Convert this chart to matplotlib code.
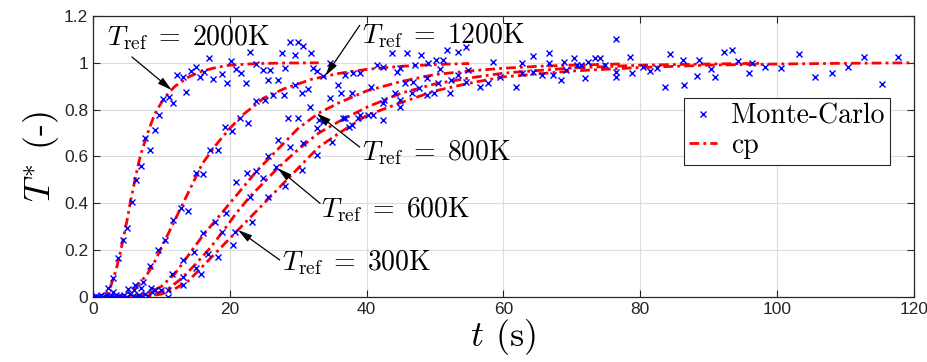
import numpy as np
import matplotlib
matplotlib.use('Agg')
import matplotlib.pyplot as plt
from matplotlib.lines import Line2D

plt.rcParams['mathtext.fontset'] = 'cm'

# curvas cp
t_2000 = [0, 1, 2, 2.5, 3, 3.5, 4, 4.5, 5, 5.5, 6, 6.5, 7, 8, 9, 10, 11, 12, 14, 16, 18, 20, 24, 28, 33]
T_2000 = [0, 0.002, 0.015, 0.04, 0.08, 0.13, 0.19, 0.26, 0.33, 0.41, 0.48, 0.55, 0.61, 0.70, 0.78, 0.83,
          0.87, 0.90, 0.94, 0.965, 0.98, 0.99, 0.997, 0.999, 1.0]
t_1200 = [0, 2, 4, 5, 6, 7, 8, 9, 10, 11, 12, 13, 14, 15, 16, 18, 20, 22, 25, 28, 32, 36, 40, 45, 50, 55]
T_1200 = [0, 0, 0.005, 0.015, 0.035, 0.065, 0.10, 0.15, 0.21, 0.27, 0.33, 0.39, 0.45, 0.51, 0.57, 0.65,
          0.72, 0.78, 0.85, 0.89, 0.93, 0.955, 0.972, 0.985, 0.993, 0.997]
t_800 = [0, 4, 6, 8, 10, 12, 14, 16, 18, 20, 22, 24, 26, 28, 30, 33, 36, 40, 45, 50, 55, 60, 65, 70, 77]
T_800 = [0, 0, 0.003, 0.015, 0.045, 0.10, 0.18, 0.26, 0.33, 0.40, 0.47, 0.54, 0.60, 0.66, 0.72, 0.785,
         0.83, 0.88, 0.92, 0.95, 0.965, 0.977, 0.985, 0.99, 0.995]
t_600 = [0, 5, 7, 9, 11, 13, 15, 17, 19, 21, 23, 25, 27, 30, 33, 36, 40, 45, 50, 55, 60, 70, 80, 90, 98]
T_600 = [0, 0, 0.003, 0.012, 0.035, 0.08, 0.14, 0.205, 0.28, 0.36, 0.43, 0.49, 0.55, 0.63, 0.70, 0.75,
         0.81, 0.87, 0.91, 0.935, 0.956, 0.978, 0.99, 0.995, 0.998]
t_300 = [0, 6, 8, 10, 12, 14, 16, 18, 20, 22, 24, 26, 28, 30, 33, 36, 40, 45, 50, 55, 60, 70, 80, 90,
         100, 110, 120]
T_300 = [0, 0, 0.003, 0.012, 0.035, 0.07, 0.13, 0.19, 0.25, 0.31, 0.37, 0.43, 0.49, 0.55, 0.64, 0.70,
         0.775, 0.83, 0.88, 0.913, 0.94, 0.965, 0.98, 0.99, 0.995, 0.998, 1.0]

# puntos Monte-Carlo
mc_cero = [(0.2, 0.0), (0.5, 0.005), (0.8, 0.0), (1.1, 0.01), (1.4, 0.0), (1.7, 0.005), (2.0, 0.01),
           (2.3, 0.0), (2.7, 0.005), (3.1, 0.0), (3.4, 0.01), (3.8, 0.005), (4.2, 0.0), (4.6, 0.008),
           (5.0, 0.0), (5.4, 0.012), (5.8, 0.005), (6.2, 0.0), (6.7, 0.01), (7.1, 0.0), (7.6, 0.012),
           (8.0, 0.005), (8.6, 0.02), (9.1, 0.03), (3.0, 0.02), (6.0, 0.03), (7.0, 0.04)]
mc_2000 = [(2.2, 0.037), (3.0, 0.082), (3.7, 0.168), (4.4, 0.243), (5.0, 0.296), (5.7, 0.404), (6.3, 0.50),
           (7.0, 0.56), (7.6, 0.677), (8.3, 0.627), (9.0, 0.713), (9.6, 0.777), (10.3, 0.845), (11.1, 0.853),
           (11.7, 0.83), (12.3, 0.948), (13.1, 0.938), (13.6, 0.874), (14.3, 0.966), (15.0, 0.983),
           (15.6, 0.94), (16.3, 0.962), (17.0, 1.019), (17.6, 0.931), (18.9, 0.952), (19.6, 0.915),
           (20.2, 1.008), (20.9, 0.972), (21.7, 0.955), (22.3, 0.915), (22.9, 1.045), (23.9, 0.997),
           (24.9, 0.969), (25.6, 0.926), (25.9, 0.969), (27.1, 0.926), (27.6, 1.04), (28.1, 0.976),
           (28.8, 1.09), (29.5, 1.033), (30.0, 1.09), (30.7, 1.07), (31.9, 1.04), (32.2, 0.976)]
mc_1200 = [(5.1, 0.033), (6.1, 0.052), (7.3, 0.066), (8.4, 0.133), (9.5, 0.201), (10.5, 0.243), (11.7, 0.328),
           (12.8, 0.378), (13.9, 0.368), (15.0, 0.531), (16.1, 0.525), (17.1, 0.628), (18.3, 0.628),
           (19.3, 0.728), (20.3, 0.707), (21.5, 0.764), (22.7, 0.742), (23.9, 0.835), (25.1, 0.842),
           (26.3, 0.862), (28.0, 0.862), (29.5, 0.906), (30.5, 0.870), (31.4, 0.89), (31.7, 0.813),
           (32.7, 0.963), (33.7, 0.942), (34.6, 1.0), (35.8, 0.906), (36.3, 0.870), (36.8, 0.948),
           (37.8, 0.870), (38.0, 0.956), (39.0, 0.956), (41.5, 0.99), (42.4, 0.983), (43.7, 1.04),
           (44.4, 0.962), (44.9, 0.976), (45.9, 1.04), (47.1, 0.99), (48.0, 1.033), (49.0, 0.998),
           (50.2, 1.012), (50.7, 0.972), (51.2, 1.012), (51.7, 1.055), (53.3, 1.048), (54.6, 1.066)]
mc_bajas = [(8.5, 0.037), (10.0, 0.03), (11.0, 0.03), (11.0, 0.0), (11.5, 0.10), (13.1, 0.086), (13.2, 0.158),
            (13.2, 0.05), (14.7, 0.194), (15.0, 0.122), (15.8, 0.098), (16.1, 0.272), (16.8, 0.184),
            (17.8, 0.322), (18.3, 0.172), (18.8, 0.279), (19.4, 0.358), (20.5, 0.222), (20.8, 0.279),
            (20.9, 0.492), (22.5, 0.528), (22.9, 0.425), (23.2, 0.322), (23.9, 0.536), (24.9, 0.507),
            (25.6, 0.60), (25.6, 0.429), (26.8, 0.557), (27.1, 0.671), (28.1, 0.472), (28.8, 0.642),
            (28.5, 0.764), (30.0, 0.764), (30.7, 0.657), (30.5, 0.543), (32.7, 0.607), (32.7, 0.721),
            (33.7, 0.749), (34.9, 0.664), (36.8, 0.764), (37.8, 0.735), (38.8, 0.764), (40.2, 0.778),
            (33.1, 0.756), (34.6, 0.848), (36.5, 0.763), (37.5, 0.727), (39.0, 0.777), (40.7, 0.898),
            (42.6, 0.84)]
mc_medio = [(41.0, 0.777), (42.4, 0.827), (42.4, 0.755), (44.2, 0.87), (44.9, 0.84), (44.9, 0.812),
            (45.6, 0.912), (46.8, 0.919), (46.6, 0.87), (47.6, 0.891), (48.8, 0.934), (48.8, 0.862),
            (49.8, 0.87), (50.5, 0.912), (52.2, 0.87), (52.4, 0.926), (53.4, 0.948), (54.6, 0.919),
            (54.9, 0.969), (56.6, 0.898), (57.8, 0.912), (58.5, 1.005), (59.5, 0.941), (61.9, 0.898),
            (62.7, 1.0), (62.7, 0.955), (64.4, 1.03), (64.4, 0.962), (65.6, 0.948), (66.6, 1.04),
            (66.6, 1.0), (67.3, 0.948), (68.5, 0.926), (68.8, 1.005), (69.2, 0.969)]
mc_final = [(70.3, 1.02), (70.7, 0.99), (71.4, 0.99), (71.9, 0.936), (72.4, 1.004), (73.4, 1.02), (74.1, 1.02),
            (74.8, 0.99), (76.4, 1.101), (76.4, 0.962), (76.4, 0.941), (78.5, 1.026), (78.8, 0.958),
            (80.4, 0.983), (81.4, 0.965), (82.5, 0.976), (83.7, 0.898), (84.3, 1.037), (86.2, 1.012),
            (86.4, 0.905), (88.3, 0.944), (88.6, 1.012), (90.3, 0.972), (91.0, 0.941), (92.3, 1.047),
            (93.5, 1.054), (94.3, 1.008), (95.9, 0.955), (96.4, 1.001), (98.3, 0.983), (100.6, 0.976),
            (103.2, 1.036), (105.6, 0.941), (108.0, 0.958), (110.4, 0.983), (112.8, 1.026), (115.3, 0.908),
            (117.7, 1.026)]

curvas = [(t_2000, T_2000), (t_1200, T_1200), (t_800, T_800), (t_600, T_600), (t_300, T_300)]
mc = np.array(mc_cero + mc_2000 + mc_1200 + mc_bajas + mc_medio + mc_final)

# etiquetas y flechas: (texto, posicion texto (linea base), punta flecha, inicio flecha)
anotaciones = [('2000', (2.1, 1.076), (11.5, 0.884), (5.7, 1.025)),
               ('1200', (39.4, 1.084), (34.0, 0.945), (39.0, 1.16)),
               ('800', (39.4, 0.585), (32.7, 0.784), (39.0, 0.64)),
               ('600', (33.4, 0.342), (27.0, 0.55), (33.2, 0.40)),
               ('300', (27.7, 0.115), (21.2, 0.286), (27.3, 0.158))]

fig = plt.figure(figsize=(9.27, 3.62), dpi=100)
ax = fig.add_axes([0.1003, 0.1796, 0.8854, 0.7762])

rojo = (1, 0, 0)
for t, T in curvas:
    ax.plot(t, T, color=rojo, lw=2, dashes=(3.5, 1.5, 1, 1.5), zorder=2)
ax.plot(mc[:, 0], mc[:, 1], 'x', color='blue', ms=5, mew=1, zorder=3)

for temp, xy_txt, punta, cola in anotaciones:
    ax.text(xy_txt[0], xy_txt[1], r'$T_{\mathrm{ref}}\;=\;' + temp + r'\mathrm{K}$', fontsize=20,
            va='baseline', ha='left', zorder=5)
    ax.annotate('', xy=punta, xytext=cola,
                arrowprops=dict(arrowstyle='-|>,head_length=0.6,head_width=0.16', color='black',
                                lw=0.9, mutation_scale=14, shrinkA=0, shrinkB=0), zorder=5)

ax.set_xlim(0, 120)
ax.set_ylim(0, 1.2)
ax.set_xticks(np.arange(0, 121, 20))
ax.set_yticks([0, 0.2, 0.4, 0.6, 0.8, 1.0, 1.2])
ax.set_yticklabels(['0', '0.2', '0.4', '0.6', '0.8', '1', '1.2'])
ax.grid(True, color='#dcdcdc', lw=0.8)
ax.set_axisbelow(True)
ax.tick_params(direction='in', top=True, right=True, length=5, width=0.8, colors='#262626',
               labelsize=12.5)
for lab in ax.get_xticklabels() + ax.get_yticklabels():
    lab.set_family(['Liberation Sans Narrow', 'Liberation Sans', 'DejaVu Sans'])
for s in ax.spines.values():
    s.set_color('#262626')
    s.set_linewidth(0.9)

ax.set_xlabel(r'$t$ (s)', family='cmr10', fontsize=26, labelpad=0)
ax.set_ylabel(r'$T^{*}$ (-)', family='cmr10', fontsize=26, labelpad=2)

handles = [Line2D([], [], ls='none', marker='x', color='blue', ms=5, mew=1),
           Line2D([], [], color=rojo, lw=2, dashes=(3.5, 1.5, 1, 1.5))]
leg = ax.legend(handles, ['Monte-Carlo', 'cp'], loc='upper right', bbox_to_anchor=(0.971, 0.708),
                prop={'family': 'cmr10', 'size': 20}, fancybox=False, framealpha=1,
                edgecolor='#262626', handlelength=1.0, borderpad=0.2, labelspacing=0.1,
                handletextpad=0.5, borderaxespad=0)
leg.get_frame().set_linewidth(0.8)

plt.savefig('out.png', dpi=100)
